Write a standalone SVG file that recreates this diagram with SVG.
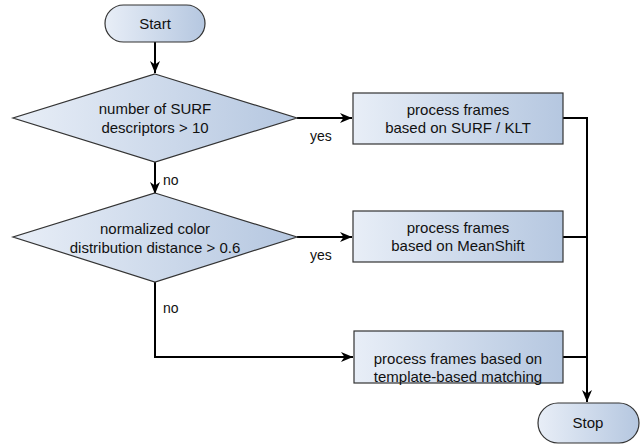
<svg xmlns="http://www.w3.org/2000/svg" width="643" height="445" viewBox="0 0 643 445">
<defs>
<linearGradient id="g" x1="0" y1="0" x2="1" y2="0">
<stop offset="0" stop-color="#e8eef7"/>
<stop offset="1" stop-color="#b5c7e0"/>
</linearGradient>
<marker id="arr" viewBox="0 0 12 10" refX="12" refY="5" markerWidth="12" markerHeight="10" markerUnits="userSpaceOnUse" orient="auto">
<path d="M0,0 L12,5 L0,10 L3.5,5 Z" fill="#000"/>
</marker>
<style>
.n{fill:url(#g);stroke:#333;stroke-width:1.2}
.t{font-family:"Liberation Sans",Arial,sans-serif;font-size:15px;fill:#111;text-anchor:middle}
.l{font-family:"Liberation Sans",Arial,sans-serif;font-size:14px;fill:#111}
.c{fill:none;stroke:#000;stroke-width:2}
</style>
</defs>
<rect width="643" height="445" fill="#fff"/>
<g id="connectors">
<path class="c" d="M155,42 V73" marker-end="url(#arr)"/>
<path class="c" d="M155,162 V194" marker-end="url(#arr)"/>
<path class="c" d="M297,118 H352" marker-end="url(#arr)"/>
<path class="c" d="M297,237 H352" marker-end="url(#arr)"/>
<path class="c" d="M155,282 V357 H353" marker-end="url(#arr)"/>
<path class="c" d="M563,118 H587 V402" marker-end="url(#arr)"/>
<path class="c" d="M563,237 H587"/>
<path class="c" d="M563,357 H587"/>
<text class="l" x="163" y="185">no</text>
<text class="l" x="163" y="313">no</text>
<text class="l" x="310" y="141">yes</text>
<text class="l" x="310" y="260">yes</text>
</g>
<g id="start">
<rect class="n" x="105" y="5" width="100" height="37" rx="18.5"/>
<text class="t" x="155" y="29">Start</text>
</g>
<g id="decision1">
<polygon class="n" points="155,74 297,118 155,162 13,118"/>
<text class="t" x="155" y="114">number of SURF</text>
<text class="t" x="155" y="133">descriptors &gt; 10</text>
</g>
<g id="decision2">
<polygon class="n" points="155,193 297,237 155,282 13,237"/>
<text class="t" x="155" y="234">normalized color</text>
<text class="t" x="155" y="253">distribution distance &gt; 0.6</text>
</g>
<g id="box1">
<rect class="n" x="353" y="93" width="210" height="51"/>
<text class="t" x="458" y="115">process frames</text>
<text class="t" x="458" y="133">based on SURF / KLT</text>
</g>
<g id="box2">
<rect class="n" x="353" y="211" width="210" height="51"/>
<text class="t" x="458" y="233">process frames</text>
<text class="t" x="458" y="251">based on MeanShift</text>
</g>
<g id="box3">
<rect class="n" x="354" y="331" width="209" height="52"/>
<text class="t" x="458" y="364">process frames based on</text>
<text class="t" x="458" y="382">template-based matching</text>
</g>
<g id="stop">
<rect class="n" x="538" y="403" width="101" height="40" rx="20"/>
<text class="t" x="588" y="428">Stop</text>
</g>
</svg>
